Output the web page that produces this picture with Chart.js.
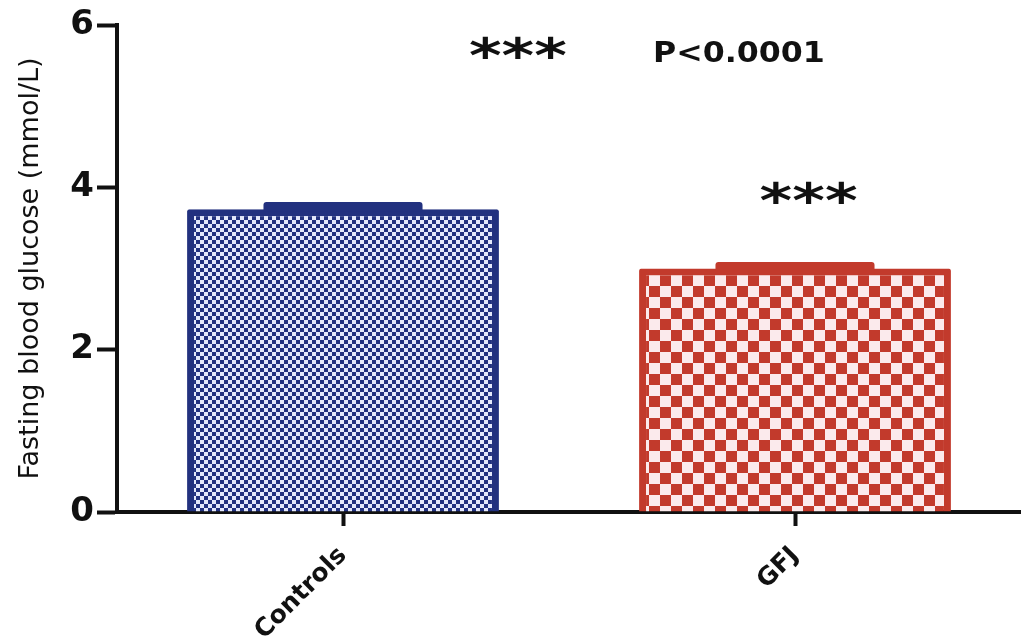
<!DOCTYPE html>
<html>
<head>
<meta charset="utf-8">
<script src="https://cdn.jsdelivr.net/npm/chart.js@4"></script>
<style>
  html, body { margin: 0; padding: 0; background: #ffffff; }
  #wrap { width: 1021px; height: 641px; position: relative; }
</style>
</head>
<body>
<div id="wrap"><canvas id="c" width="1021" height="641"></canvas></div>
<script>
// ---- data ----
const categories = ['Controls', 'GFJ'];
const means = [3.73, 3.00];
const sems = [0.09, 0.08];
const yTicks = [0, 2, 4, 6];
const yTitle = 'Fasting blood glucose (mmol/L)';
const annotationTexts = ['***', 'P<0.0001', '***'];
const annotationX = [0.387, 0.876, 1.03];   // category units
const annotationY = [5.69, 5.63, 3.90];     // value units

// ---- styles ----
const barColors = ['#22317f', '#c23a2c'];
const lightColors = ['#e4e8fb', '#fbeaec'];
const cellSizes = [4, 11];

function makePattern(dark, light, cell) {
  const p = document.createElement('canvas');
  const n = Math.ceil(cell * 2);
  p.width = n; p.height = n;
  const g = p.getContext('2d');
  g.fillStyle = dark; g.fillRect(0, 0, n, n);
  g.fillStyle = light;
  g.fillRect(0, 0, cell, cell);
  g.fillRect(cell, cell, cell, cell);
  return g.createPattern(p, 'repeat');
}
const patterns = barColors.map((c, i) => makePattern(c, lightColors[i], cellSizes[i]));

const errorPlugin = {
  id: 'semCaps',
  afterDatasetsDraw(chart) {
    const meta = chart.getDatasetMeta(0);
    const y = chart.scales.y;
    const ctx = chart.ctx;
    meta.data.forEach((bar, i) => {
      const w = bar.width * 0.51;
      const top = y.getPixelForValue(means[i] + sems[i]);
      const bottom = y.getPixelForValue(means[i]) + 2;
      ctx.save();
      ctx.fillStyle = barColors[i];
      ctx.beginPath();
      ctx.roundRect(bar.x - w / 2, top, w, bottom - top, [3, 3, 0, 0]);
      ctx.fill();
      ctx.restore();
    });
  }
};

const textPlugin = {
  id: 'annotTexts',
  afterDraw(chart) {
    const ctx = chart.ctx;
    const xs = chart.scales.x, ys = chart.scales.y;
    annotationTexts.forEach((t, i) => {
      const px = xs.getPixelForValue(annotationX[i]);
      const py = ys.getPixelForValue(annotationY[i]);
      ctx.save();
      ctx.fillStyle = '#111111';
      ctx.textAlign = 'center';
      ctx.textBaseline = 'middle';
      if (t === '***') {
        ctx.font = 'bold 48px "DejaVu Sans"';
        ctx.translate(px, py + 9);
        ctx.scale(1.3, 1);
        ctx.fillText(t, 0, 0);
      } else {
        ctx.font = 'bold 28px "DejaVu Sans"';
        ctx.translate(px, py);
        ctx.scale(1.13, 1);
        ctx.fillText(t, 0, 0);
      }
      ctx.restore();
    });
  }
};

new Chart(document.getElementById('c'), {
  type: 'bar',
  data: {
    labels: categories,
    datasets: [{
      data: means,
      backgroundColor: patterns,
      borderColor: barColors,
      borderWidth: 7,
      borderRadius: 2,
      borderSkipped: 'start',
      barPercentage: 0.69,
      categoryPercentage: 1.0
    }]
  },
  options: {
    responsive: false,
    animation: false,
    devicePixelRatio: 1,
    layout: { padding: { top: 25, right: 0, left: 0, bottom: 0 } },
    plugins: { legend: { display: false }, tooltip: { enabled: false } },
    scales: {
      x: {
        offset: true,
        afterFit(s) { s.height = 129; },
        grid: { display: true, offset: false, drawOnChartArea: false, drawTicks: true,
                tickLength: 14, tickWidth: 4, color: '#111111' },
        border: { display: true, width: 4, color: '#111111' },
        ticks: {
          color: '#111111', maxRotation: 45, minRotation: 45, padding: 15,
          font: { family: 'DejaVu Sans', size: 25, weight: 'bold' }
        }
      },
      y: {
        min: 0, max: 6,
        afterFit(s) { s.width = 117; },
        afterBuildTicks(s) { s.ticks = yTicks.map(v => ({ value: v })); },
        grid: { display: true, drawOnChartArea: false, drawTicks: true,
                tickLength: 20, tickWidth: 4, color: '#111111' },
        border: { display: true, width: 4, color: '#111111' },
        ticks: {
          color: '#111111', padding: 3,
          font: { family: 'DejaVu Sans', size: 34, weight: 'bold' }
        },
        title: {
          display: true, text: yTitle, color: '#111111', padding: { top: 15, bottom: 0 },
          font: { family: 'DejaVu Sans', size: 27, weight: '500' }
        }
      }
    }
  },
  plugins: [errorPlugin, textPlugin]
});
</script>
</body>
</html>
